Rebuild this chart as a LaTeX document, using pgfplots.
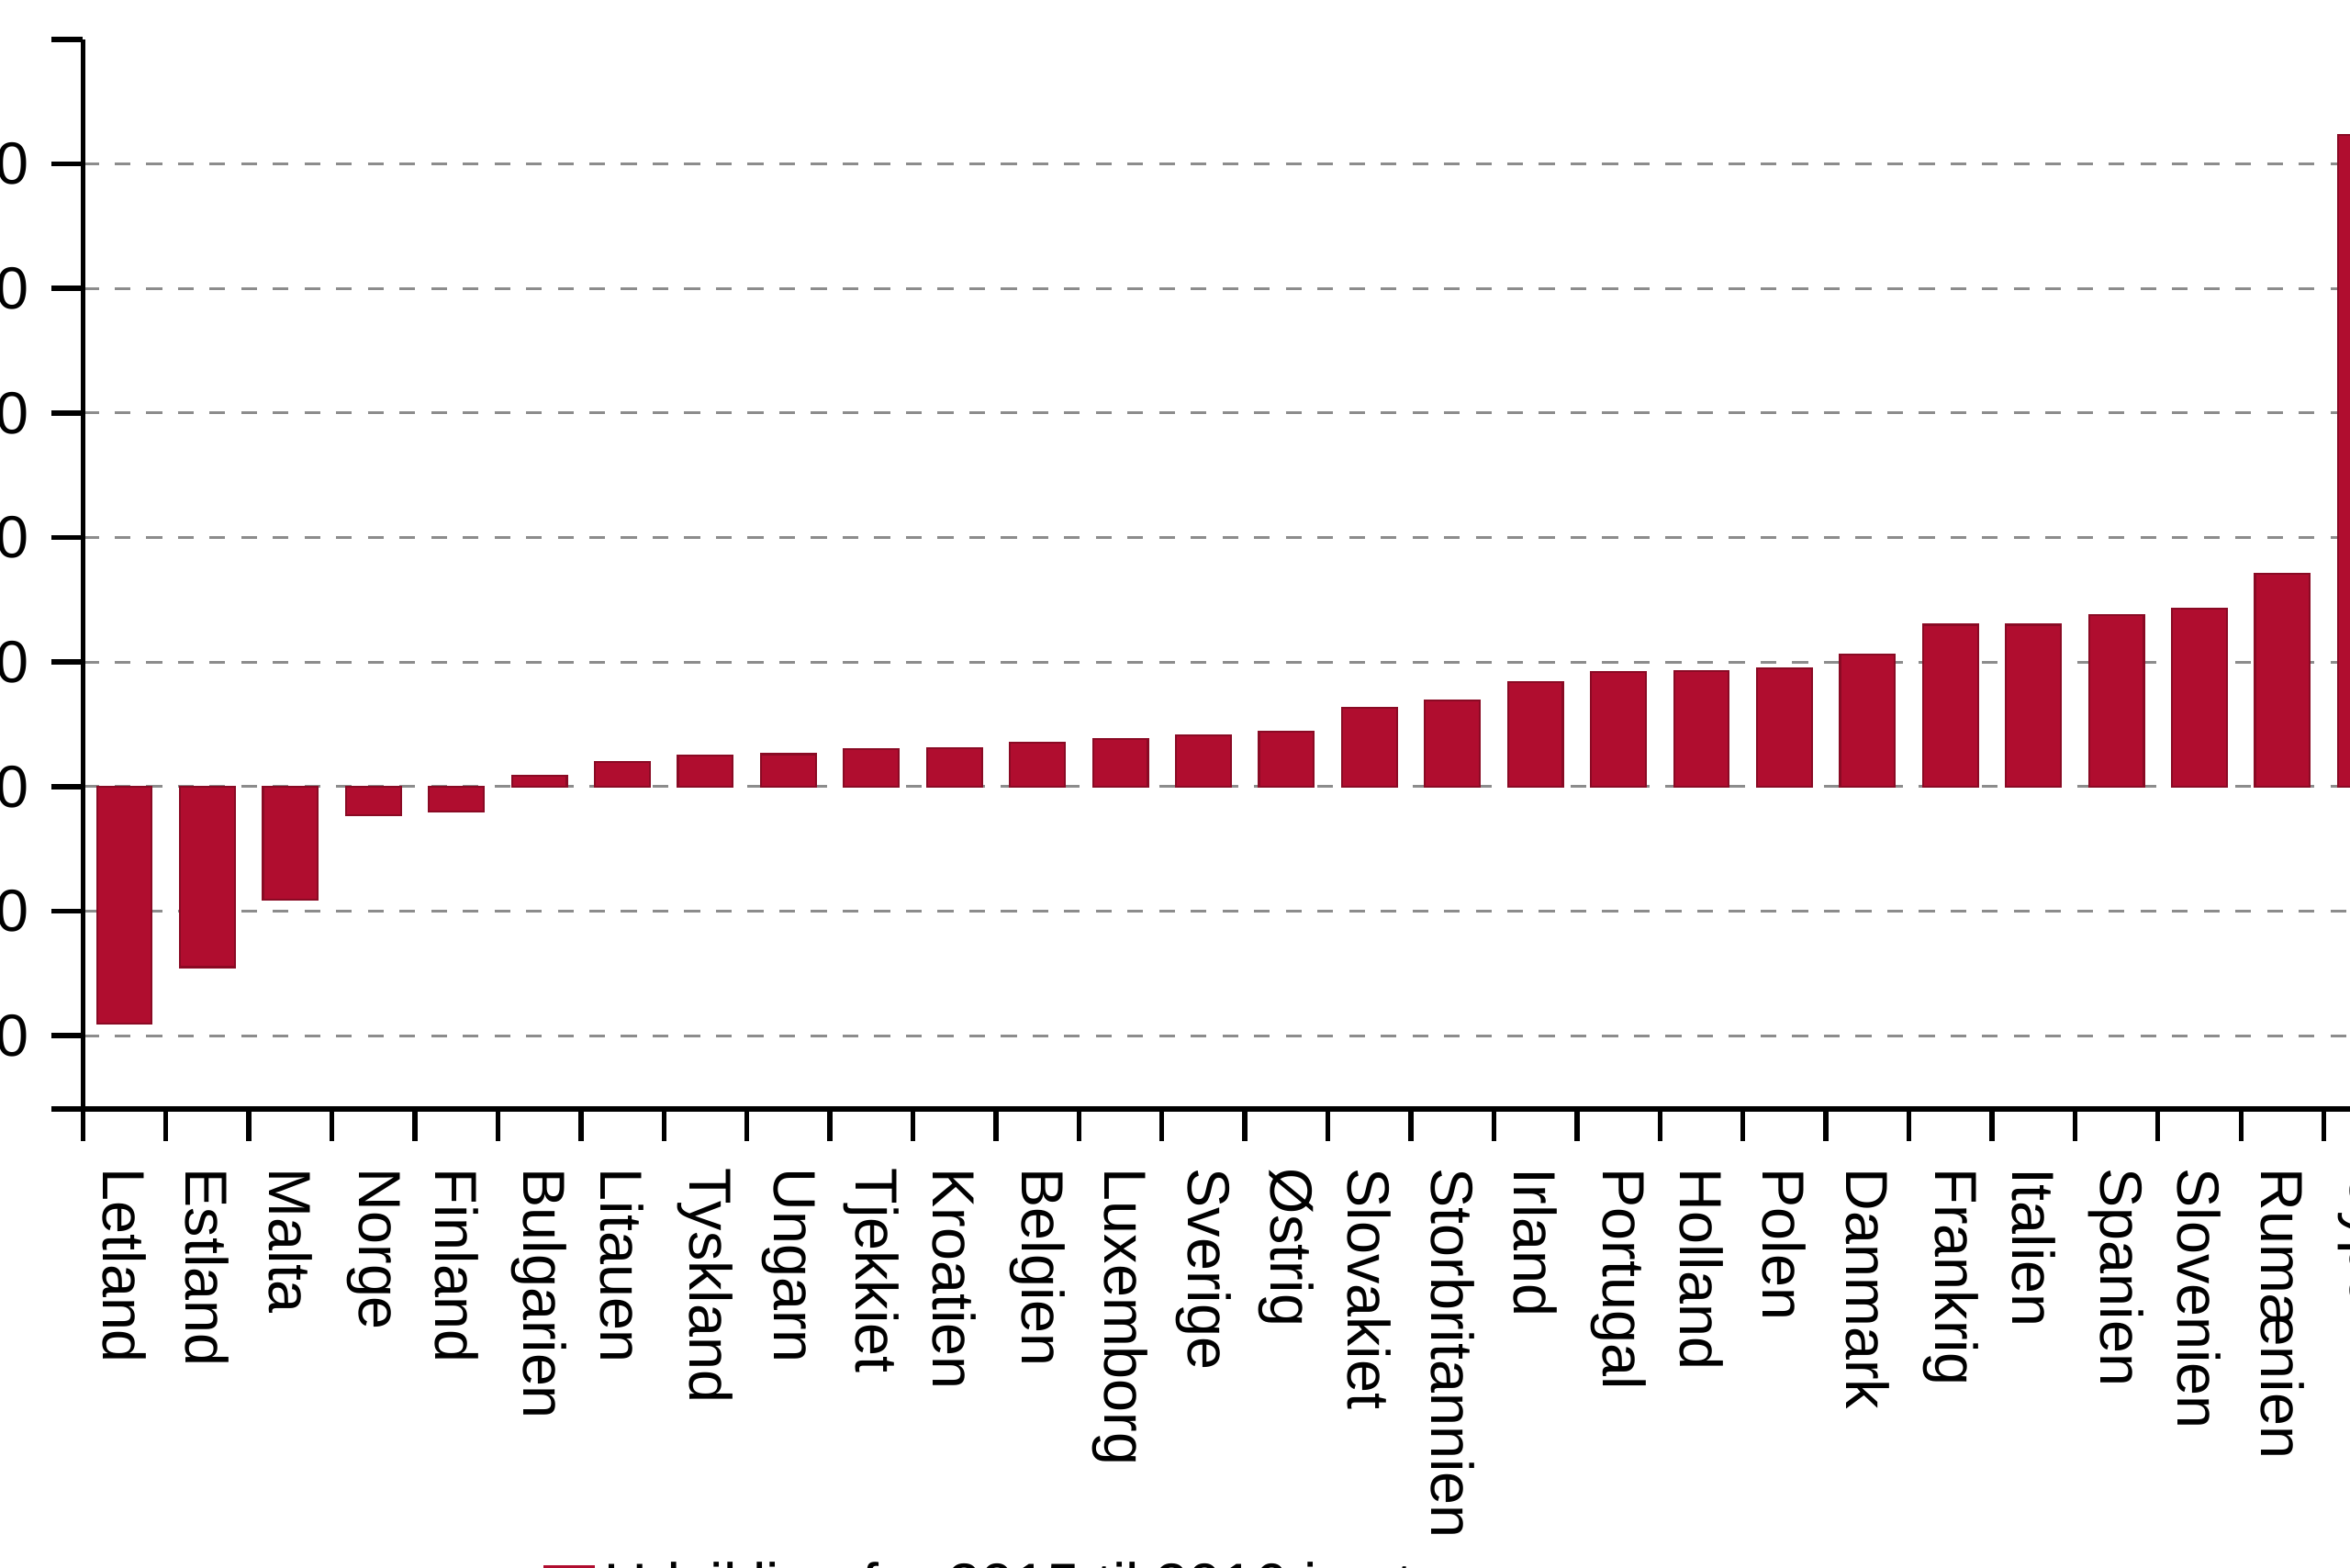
\documentclass[border=0pt]{standalone}
\usepackage{fontspec}
\setmainfont{Liberation Sans}
\usepackage{pgfplots}
\pgfplotsset{compat=1.18}
\definecolor{barred}{HTML}{B00D2F}
\definecolor{baredge}{HTML}{8A0A24}
\definecolor{gridgray}{HTML}{8C8C8C}
\begin{document}
\begin{tikzpicture}
\path[use as bounding box] (0,0) rectangle (475.15pt,316.97pt);
\begin{scope}
\clip (0,0) rectangle (475.15pt,316.97pt);
\begin{axis}[
    at={(16.76pt,92.73pt)}, anchor=south west,
    scale only axis, width=469.9pt, height=216.3pt,
    xmin=-0.5, xmax=27.5, ymin=-25.9, ymax=60,
    axis lines*=left,
    axis line style={line width=1pt, black},
    tick align=outside,
    major tick length=6.4pt,
    tick style={line width=1pt, black},
    xtick={-0.5,0.5,...,27.5},
    x tick label as interval,
    xticklabels={Letland,Estland,Malta,Norge,Finland,Bulgarien,Litauen,Tyskland,Ungarn,Tjekkiet,Kroatien,Belgien,Luxemborg,Sverige,Østrig,Slovakiet,Storbritannien,Irland,Portugal,Holland,Polen,Danmark,Frankrig,Italien,Spanien,Slovenien,Rumænien,Cypern},
    xticklabel style={rotate=-90, anchor=west, inner sep=0pt},
    xticklabel shift=5.4pt,
    ytick={-20,-10,...,50},
    yticklabel style={anchor=east, inner sep=0pt},
    yticklabel shift=4.4pt,
    extra y ticks={60,-25.9},
    extra y tick labels={,},
    extra y tick style={grid=none},
    /pgf/number format/assume math mode=true,
    tick label style={font=\fontsize{12}{14}\selectfont},
    ymajorgrids,
    grid style={gridgray, line width=0.6pt, dash pattern=on 3.2pt off 3.2pt},
    legend style={at={(axis description cs:0.1978,-0.413)}, anchor=north west,
        draw=none, inner sep=0pt, font=\fontsize{12}{14}\selectfont},
    legend image code/.code={\fill[barred] (0pt,-0.42em) rectangle (10pt,0.42em);},
]
\addplot[ybar, bar width=11.1pt, fill=barred, draw=baredge, line width=0.4pt]
    coordinates {
    (0,-19.0) (1,-14.5) (2,-9.1) (3,-2.3) (4,-2.0) (5,0.9) (6,2.0)
    (7,2.5) (8,2.6) (9,3.0) (10,3.1) (11,3.5) (12,3.85) (13,4.1)
    (14,4.4) (15,6.3) (16,6.9) (17,8.4) (18,9.2) (19,9.3) (20,9.5)
    (21,10.6) (22,13.0) (23,13.0) (24,13.8) (25,14.3) (26,17.1) (27,52.3)
    };
\legend{Udvikling fra 2015 til 2016 i pct.}
\end{axis}
\end{scope}
\end{tikzpicture}
\end{document}
